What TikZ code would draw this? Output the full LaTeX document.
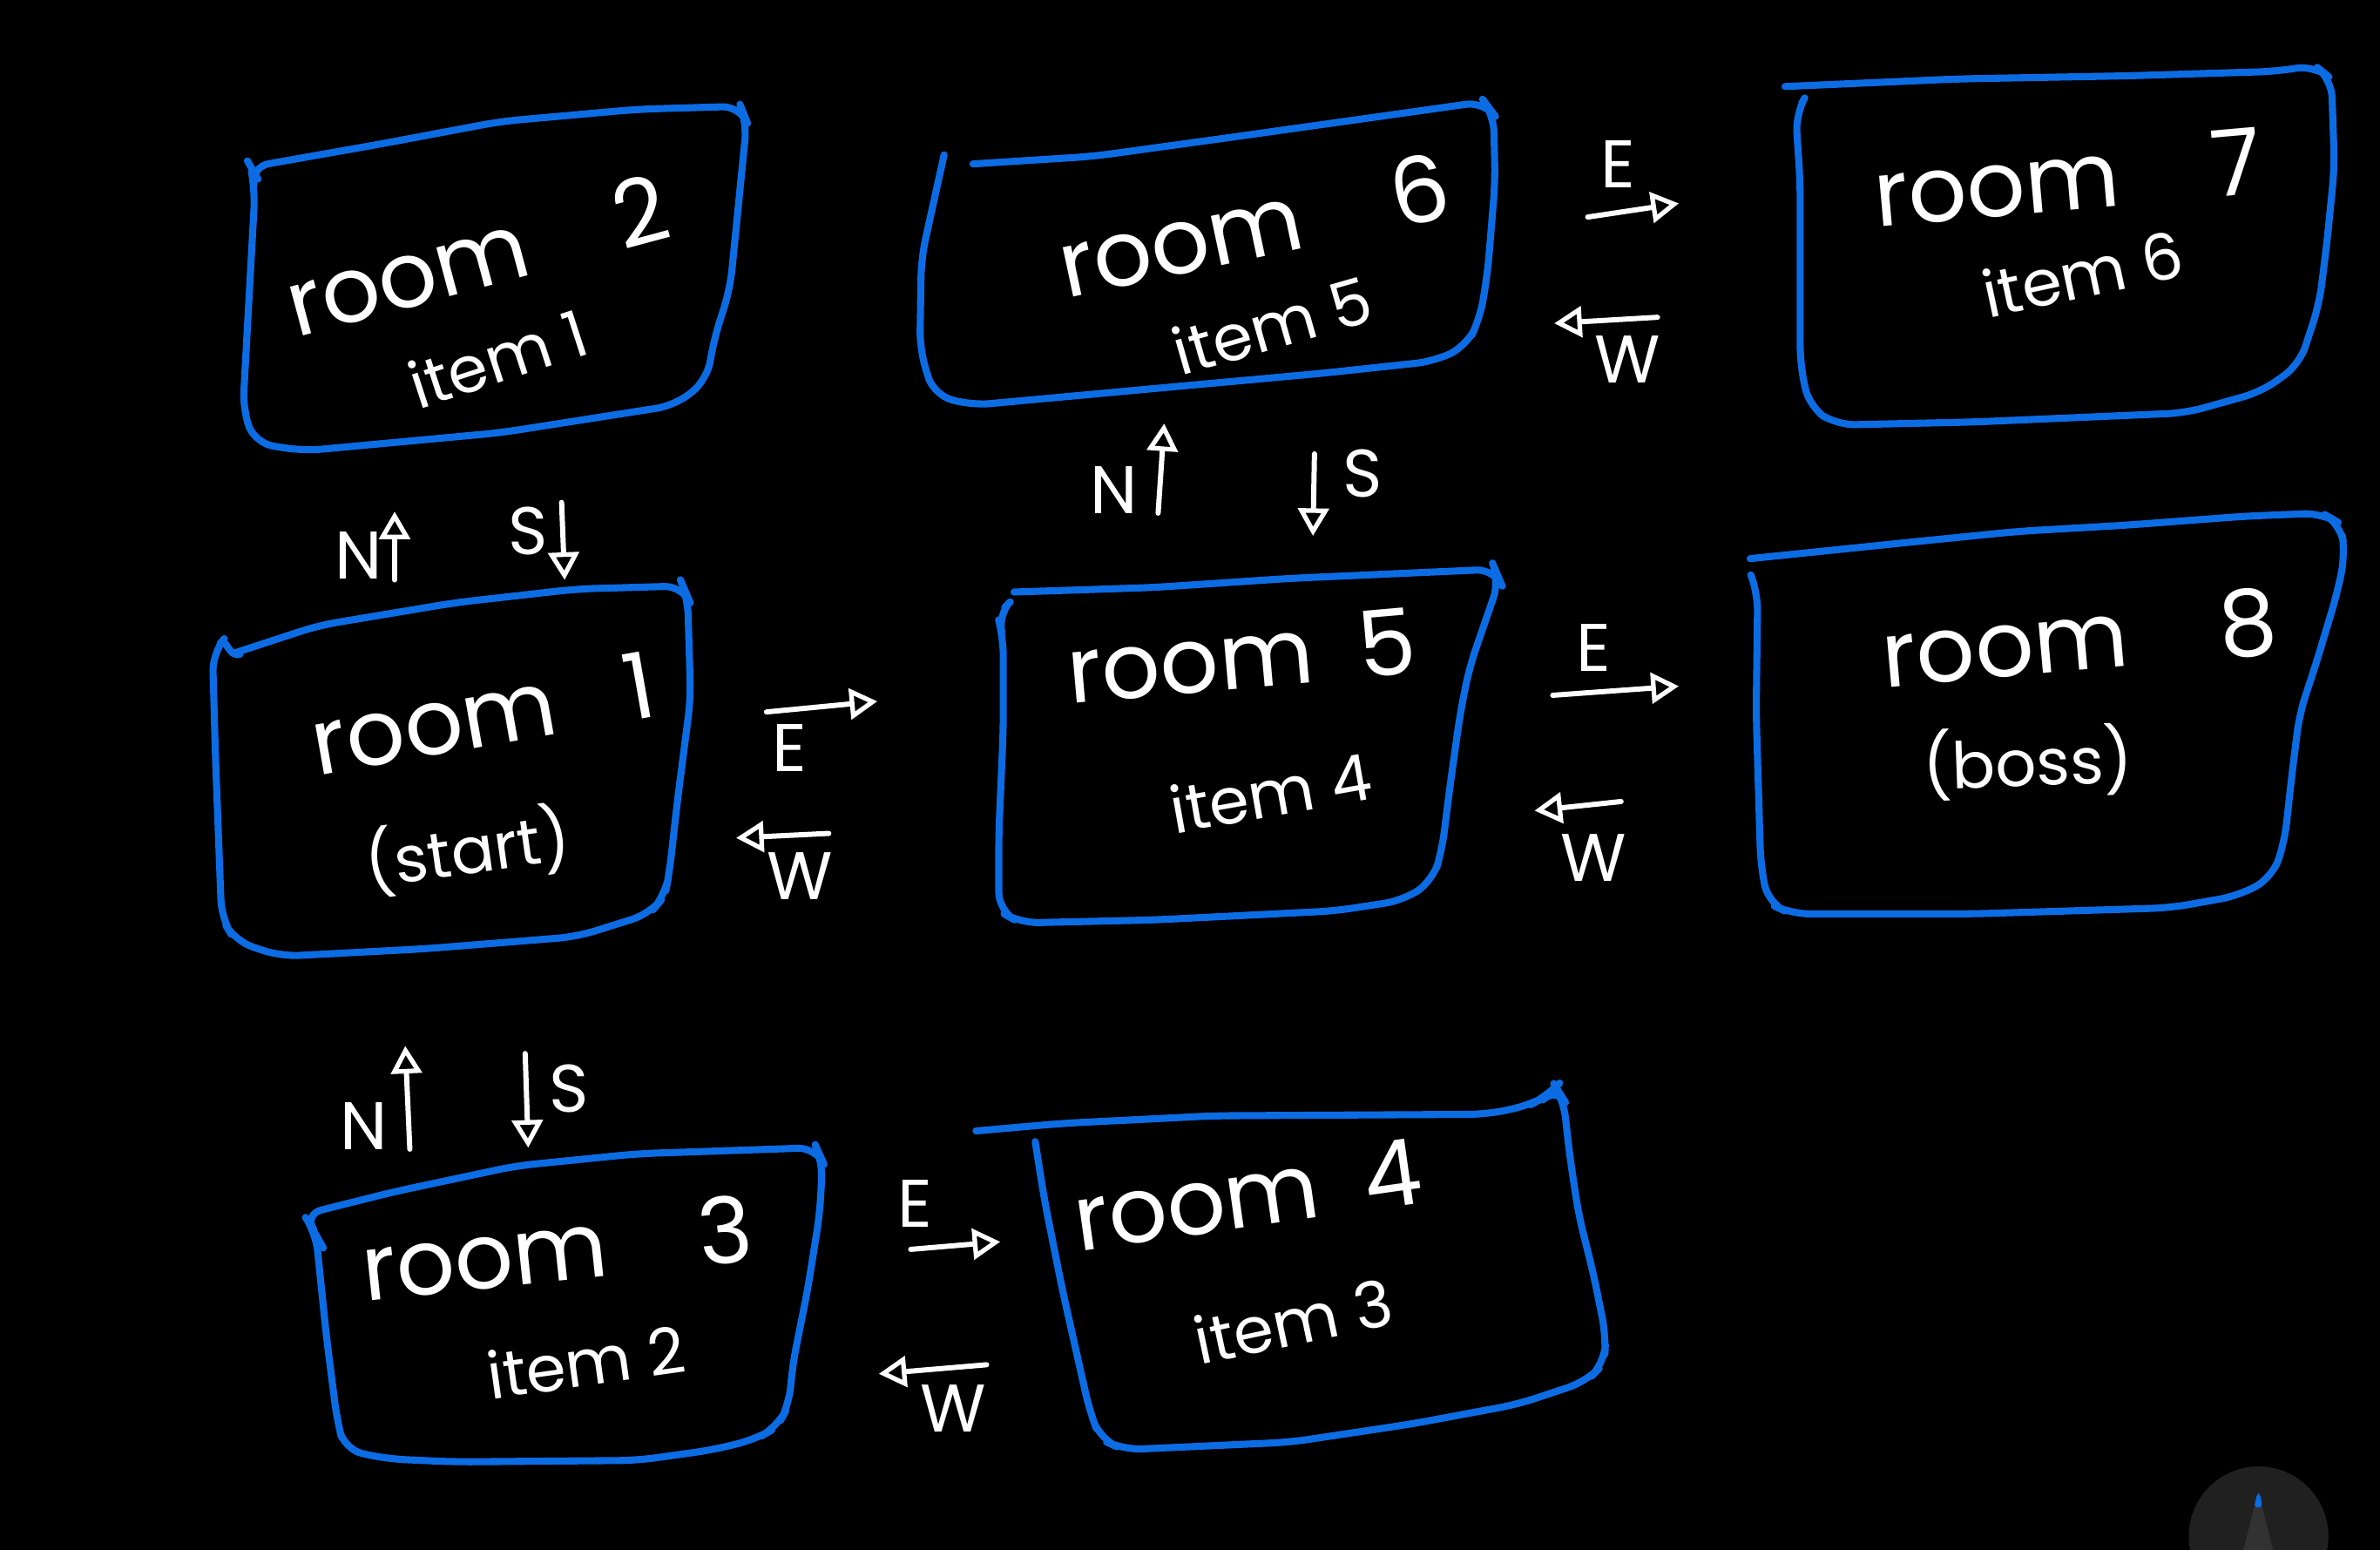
\documentclass[tikz,border=0pt]{standalone}
\usepackage{fontspec}
\setmainfont{Poppins}
\usepackage{tikz}
\usetikzlibrary{arrows.meta}

\definecolor{penblue}{RGB}{12,108,228}
\definecolor{padgrey}{RGB}{32,32,32}
\definecolor{tipgrey}{RGB}{50,50,50}

\begin{document}
\begin{tikzpicture}[x=0.017423cm, y=-0.017423cm,
  roombox/.style={penblue, line width=2.3pt, rounded corners=6pt, line cap=round, line join=round},
  roomtitle/.style={white, font=\fontsize{30}{34}\selectfont, inner sep=0pt},
  roomnote/.style={white, font=\fontsize{21}{24}\selectfont, inner sep=0pt},
  dirlabel/.style={white, font=\fontsize{22}{24}\selectfont, inner sep=0pt},
  dirarrow/.style={white, line width=1.7pt, line cap=round,
    -{Triangle[open, length=9pt, width=10pt, line width=1.5pt]}}]
  % canvas
  \useasboundingbox (0,0) rectangle (1568,1021);
  \fill[black] (0,0) rectangle (1568,1021);
  \clip (0,0) rectangle (1568,1021);

  % ---------------- rooms ----------------
  % room 2
  \draw[roombox] (165,110) -- (250,95) -- (330,80) -- (420,72) -- (488,70) -- (492,80)
      -- (487,130) -- (481,190) -- (470,225) -- (466,250) -- (445,267) -- (330,285)
      -- (200,297) -- (168,292) -- (160,270) -- (168,125) -- cycle;
  \draw[roombox] (163,106) -- (170,118);
  \node[roomtitle, rotate=15] (room2) at (314,168) {room\quad 2};
  \node[roomnote, rotate=18] (item1) at (328,236) {item 1};
  % room 6
  \draw[roombox] (641,108) -- (720,103) -- (800,92) -- (900,78) -- (978,67) -- (984,75)
      -- (985,120) -- (980,180) -- (975,210) -- (966,228) -- (945,238) -- (870,246)
      -- (760,256) -- (640,267) -- (615,260) -- (606,230) -- (607,170) -- (618,120) -- (622,102);
  \node[roomtitle, rotate=12] (room6) at (826,148) {room\quad 6};
  \node[roomnote, rotate=16] (item5) at (838,214) {item 5};
  % room 7
  \draw[roombox] (1176,57) -- (1290,52) -- (1400,50) -- (1500,47) -- (1525,43) -- (1536,52)
      -- (1538,110) -- (1533,160) -- (1528,200) -- (1515,240) -- (1490,258) -- (1440,272)
      -- (1300,278) -- (1210,280) -- (1192,268) -- (1186,240) -- (1186,120) -- (1183,75) -- (1187,68);
  \node[roomtitle, rotate=5] (room7) at (1362,117) {room\quad 7};
  \node[roomnote, rotate=12] (item6) at (1372,180) {item 6};
  % room 1 (start)
  \draw[roombox] (155,430) -- (210,412) -- (300,397) -- (380,388) -- (450,386) -- (453,393)
      -- (455,460) -- (446,530) -- (441,575) -- (438,590) -- (428,602) -- (380,617)
      -- (280,625) -- (185,630) -- (155,620) -- (146,605) -- (142,500) -- (140,430) -- (145,424);
  \draw[roombox] (145,424) .. controls (150,420) and (150,433) .. (158,431);
  \node[roomtitle, rotate=10] (room1) at (318,470) {room\enspace\ 1};
  \node[roomnote, rotate=8] (start) at (308,560) {(start)};
  % room 5
  \draw[roombox] (668,390) -- (760,387) -- (850,381) -- (940,377) -- (985,375) -- (988,382)
      -- (980,405) -- (968,440) -- (962,470) -- (955,520) -- (950,560) -- (944,580)
      -- (925,593) -- (880,600) -- (760,606) -- (672,608) -- (658,600) -- (658,550)
      -- (661,480) -- (661,420) -- (657,405) -- (662,400);
  \node[roomtitle, rotate=5] (room5) at (818,432) {room\enspace 5};
  \node[roomnote, rotate=10] (item4) at (837,522) {item 4};
  % room 8 (boss)
  \draw[roombox] (1153,368) -- (1260,357) -- (1330,350) -- (1400,346) -- (1480,340) -- (1530,338)
      -- (1542,345) -- (1545,365) -- (1540,390) -- (1525,440) -- (1515,470) -- (1510,510)
      -- (1505,555) -- (1497,578) -- (1475,590) -- (1430,598) -- (1300,602) -- (1180,602)
      -- (1165,595) -- (1160,570) -- (1157,470) -- (1158,390) -- (1154,380);
  \node[roomtitle, rotate=5] (room8) at (1370,420) {room\quad 8};
  \node[roomnote, rotate=2] (boss) at (1336,502) {(boss)};
  % room 3
  \draw[roombox] (200,800) -- (260,785) -- (340,768) -- (420,760) -- (538,756) -- (542,765)
      -- (540,800) -- (532,850) -- (522,900) -- (520,925) -- (512,940) -- (498,948)
      -- (470,955) -- (420,962) -- (300,963) -- (255,961) -- (227,955) -- (222,935)
      -- (215,880) -- (208,812) -- cycle;
  \draw[roombox] (205,808) -- (213,822);
  \node[roomtitle, rotate=6] (room3) at (367,822) {room\quad 3};
  \node[roomnote, rotate=8] (item2) at (386,897) {item 2};
  % room 4
  \draw[roombox] (643,745) -- (700,740) -- (800,735) -- (980,734) -- (1008,728) -- (1019,722)
      -- (1025,716) -- (1030,724) -- (1034,760) -- (1040,800) -- (1050,840) -- (1058,880) -- (1057,898)
      -- (1045,910) -- (1000,925) -- (930,938) -- (850,950) -- (740,955) -- (725,948)
      -- (718,930) -- (700,850) -- (688,790) -- (682,752);
  \node[roomtitle, rotate=8] (room4) at (822,787) {room\enspace 4};
  \node[roomnote, rotate=12] (item3) at (852,870) {item 3};

  % ---------------- exits ----------------
  % room 2 / room 1
  \node[dirlabel] (n21N) at (236,366) {N};
  \coordinate (n21Na) at (260,382); \coordinate (n21Nb) at (260,337);
  \draw[dirarrow] (n21Na) -- (n21Nb);
  \node[dirlabel] (n21S) at (348,350) {S};
  \coordinate (n21Sa) at (370,331); \coordinate (n21Sb) at (372,382);
  \draw[dirarrow] (n21Sa) -- (n21Sb);
  % room 6 / room 5
  \node[dirlabel] (n65N) at (734,323) {N};
  \coordinate (n65Na) at (763,338); \coordinate (n65Nb) at (767,279);
  \draw[dirarrow] (n65Na) -- (n65Nb);
  \node[dirlabel] (n65S) at (898,312) {S};
  \coordinate (n65Sa) at (866,299); \coordinate (n65Sb) at (865,353);
  \draw[dirarrow] (n65Sa) -- (n65Sb);
  % room 6 / room 7
  \node[dirlabel] (n67E) at (1066,108) {E};
  \coordinate (n67Ea) at (1046,143); \coordinate (n67Eb) at (1106,134);
  \draw[dirarrow] (n67Ea) -- (n67Eb);
  \node[dirlabel] (n67W) at (1072,237) {W};
  \coordinate (n67Wa) at (1092,209); \coordinate (n67Wb) at (1024,213);
  \draw[dirarrow] (n67Wa) -- (n67Wb);
  % room 1 / room 5
  \node[dirlabel] (n15E) at (520,493) {E};
  \coordinate (n15Ea) at (505,469); \coordinate (n15Eb) at (578,462);
  \draw[dirarrow] (n15Ea) -- (n15Eb);
  \node[dirlabel] (n15W) at (527,577) {W};
  \coordinate (n15Wa) at (546,549); \coordinate (n15Wb) at (485,552);
  \draw[dirarrow] (n15Wa) -- (n15Wb);
  % room 5 / room 8
  \node[dirlabel] (n58E) at (1050,427) {E};
  \coordinate (n58Ea) at (1023,458); \coordinate (n58Eb) at (1106,452);
  \draw[dirarrow] (n58Ea) -- (n58Eb);
  \node[dirlabel] (n58W) at (1050,565) {W};
  \coordinate (n58Wa) at (1068,528); \coordinate (n58Wb) at (1011,534);
  \draw[dirarrow] (n58Wa) -- (n58Wb);
  % room 1 / room 3
  \node[dirlabel] (n13N) at (240,742) {N};
  \coordinate (n13Na) at (270,757); \coordinate (n13Nb) at (267,689);
  \draw[dirarrow] (n13Na) -- (n13Nb);
  \node[dirlabel] (n13S) at (375,717) {S};
  \coordinate (n13Sa) at (346,694); \coordinate (n13Sb) at (348,756);
  \draw[dirarrow] (n13Sa) -- (n13Sb);
  % room 3 / room 4
  \node[dirlabel] (n34E) at (603,793) {E};
  \coordinate (n34Ea) at (600,823); \coordinate (n34Eb) at (659,818);
  \draw[dirarrow] (n34Ea) -- (n34Eb);
  \node[dirlabel] (n34W) at (628,928) {W};
  \coordinate (n34Wa) at (650,899); \coordinate (n34Wb) at (579,905);
  \draw[dirarrow] (n34Wa) -- (n34Wb);

  % pencil button
  \fill[padgrey] (1488,1012) circle (46);
  \fill[tipgrey] (1478,1021) -- (1485,993) -- (1490.5,993) -- (1497.5,1021) -- cycle;
  \fill[penblue, rounded corners=1pt] (1485,993) -- (1487,984) -- (1489,984) -- (1490.5,993) -- cycle;
\end{tikzpicture}
\end{document}
